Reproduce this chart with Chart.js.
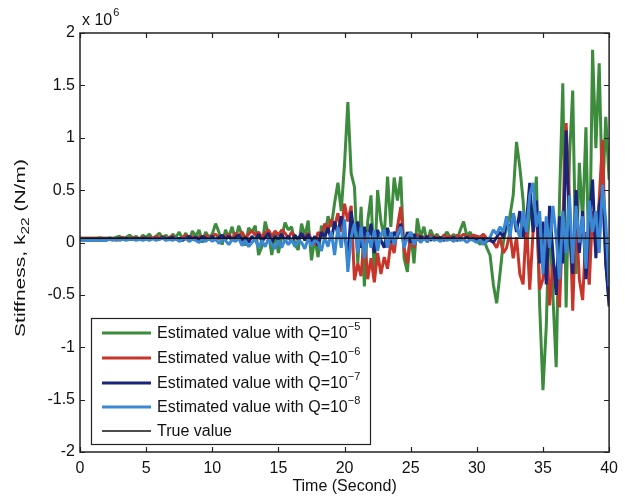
<!DOCTYPE html>
<html>
<head>
<meta charset="utf-8">
<script src="https://cdn.jsdelivr.net/npm/chart.js@4/dist/chart.umd.min.js"></script>
<style>
  html, body { margin: 0; padding: 0; background: #fff; }
  #wrap { width: 625px; height: 499px; }
</style>
</head>
<body>
<div id="wrap"><canvas id="c" width="625" height="499"></canvas></div>
<script>
// Stiffness estimates k22, in units of 10^6 N/m, sampled every 0.25 s from 0 to 40 s
const sampleStep = 0.25;

const estQ5 = [
  0.04,0.04,0.04,0.04, 0.04,0.04,0.045,0.04, 0.04,0.045,0.04,0.05, 0.06,0.03,0.05,0.07,
  0.04,0.06,0.03,0.07, 0.05,0.08,0.03,0.06, 0.09,0.04,0.07,0.02, 0.08,0.05,0.10,0.03,
  0.09,0.02,0.11,0.06, 0.12,0.00,0.10,0.05, 0.08,0.18,0.10,-0.02, 0.12,0.05,0.15,0.02,
  0.16,0.07,-0.03,0.14, 0.10,0.16,-0.12,-0.04, 0.20,0.08,-0.12,0.10, -0.10,0.05,0.19,0.12,
  0.15,-0.02,-0.07,0.18, 0.06,0.21,-0.17,0.04, -0.14,0.16,0.05,0.25, 0.15,0.38,0.57,0.30,
  0.75,1.34,0.66,0.53, -0.20,0.34,-0.42,0.20, 0.45,-0.30,0.50,0.20, 0.05,0.63,0.15,0.62,
  0.40,0.63,-0.15,-0.28, 0.10,-0.20,0.23,0.05, 0.15,0.00,0.12,0.05, 0.08,0.02,0.06,0.10,
  0.04,0.08,0.02,0.12, 0.20,0.06,0.10,0.03, 0.02,-0.02,0.05,-0.05, -0.12,-0.40,-0.58,-0.30,
  0.00,0.15,0.25,0.45, 0.96,0.72,0.40,-0.10, 0.30,0.20,0.63,-0.60, -1.41,-0.80,0.30,-0.50,
  -1.19,0.40,1.52,-0.62, 0.80,1.45,-0.30,0.76, 0.20,1.10,-0.40,1.84, 0.90,1.71,0.40,1.20,
  0.60
];

const estQ6 = [
  0.04,0.04,0.04,0.04, 0.04,0.04,0.04,0.04, 0.04,0.03,0.04,0.02, 0.04,0.05,0.03,0.04,
  0.05,0.03,0.04,0.05, 0.03,0.05,0.04,0.06, 0.04,0.06,0.03,0.05, 0.06,0.04,0.02,0.05,
  0.07,0.04,0.06,0.03, 0.06,0.02,0.07,0.05, 0.06,0.08,0.04,0.07, 0.05,0.08,0.03,0.09,
  0.06,0.10,0.04,0.08, 0.11,0.07,0.10,0.05, 0.09,0.12,0.06,0.11, 0.07,0.12,0.09,0.04,
  0.10,0.06,0.02,0.08, 0.05,0.09,0.03,-0.02, 0.10,0.05,0.18,0.12, 0.22,0.15,0.28,0.10,
  0.37,0.20,0.35,-0.36, -0.20,-0.32,0.10,-0.35, -0.15,-0.38,-0.10,-0.30, -0.14,-0.25,0.00,-0.10,
  0.15,0.34,-0.05,-0.20, 0.10,-0.05,0.08,0.03, 0.06,0.02,0.07,0.04, 0.06,0.03,0.07,0.05,
  0.06,0.04,0.07,0.05, 0.08,0.05,0.06,0.07, 0.06,0.05,0.08,0.04, 0.02,0.00,-0.05,0.05,
  -0.10,-0.05,0.10,-0.15, 0.05,-0.30,-0.40,0.20, -0.45,0.10,0.34,-0.45, -0.35,0.15,-0.60,-0.20,
  -0.30,-0.62,0.20,1.14, 0.40,-0.65,0.30,-0.35, -0.55,0.10,-0.40,0.30, -0.10,0.40,0.98,-0.20,
  -0.55
];

const estQ7 = [
  0.03,0.03,0.03,0.03, 0.03,0.03,0.03,0.03, 0.03,0.04,0.03,0.03, 0.04,0.03,0.04,0.03,
  0.03,0.04,0.03,0.04, 0.04,0.03,0.04,0.03, 0.03,0.05,0.03,0.04, 0.05,0.03,0.04,0.02,
  0.04,0.06,0.03,0.05, 0.02,0.06,0.04,0.03, 0.06,0.02,0.05,0.07, 0.03,0.06,0.02,0.05,
  0.07,0.02,0.05,0.00, 0.06,0.02,0.08,0.01, 0.05,0.09,0.00,0.06, 0.03,0.08,0.02,0.06,
  0.00,0.07,0.03,0.09, 0.02,0.08,0.00,0.06, -0.03,0.10,0.05,0.14, 0.02,0.20,0.08,0.25,
  0.10,-0.15,0.30,0.05, 0.20,-0.05,0.15,0.00, 0.18,-0.10,0.12,0.02, -0.05,0.14,0.00,0.10,
  0.05,0.18,-0.02,0.10, 0.00,0.08,0.02,0.06, 0.03,0.06,0.02,0.05, 0.03,0.05,0.02,0.04,
  0.03,0.05,0.02,0.04, 0.03,0.05,0.03,0.04, 0.03,0.02,0.04,0.01, 0.03,0.00,0.05,0.10,
  0.05,0.20,0.12,0.28, 0.10,0.30,0.05,0.20, 0.57,0.10,0.40,-0.20, 0.20,-0.40,0.35,-0.10,
  -0.50,0.25,-0.20,1.07, 0.10,-0.30,0.50,-0.10, 0.30,-0.35,0.20,0.60, -0.15,0.35,0.50,-0.20,
  -0.61
];

const estQ8 = [
  0.02,0.02,0.02,0.02, 0.02,0.02,0.02,0.02, 0.02,0.03,0.02,0.03, 0.02,0.03,0.02,0.03,
  0.03,0.02,0.03,0.02, 0.03,0.02,0.04,0.02, 0.03,0.04,0.02,0.03, 0.02,0.04,0.01,0.03,
  0.04,0.01,0.03,0.02, 0.00,0.03,0.01,0.04, 0.01,0.04,-0.01,0.03, 0.02,-0.02,0.03,0.01,
  0.04,-0.03,0.02,-0.04, 0.00,0.03,-0.05,0.02, -0.04,0.04,-0.02,-0.06, 0.02,-0.05,0.03,-0.02,
  0.03,-0.04,0.02,0.00, -0.06,0.04,-0.03,0.02, 0.00,-0.08,0.05,-0.04, 0.10,-0.12,0.15,-0.05,
  0.22,-0.28,0.05,0.18, -0.10,0.15,-0.15,0.10, -0.05,0.12,-0.08,0.08, 0.12,-0.05,0.10,-0.02,
  0.08,0.15,-0.05,0.05, 0.10,-0.02,0.05,0.00, 0.04,0.01,0.05,0.02, 0.03,0.01,0.04,0.02,
  0.03,0.01,0.04,0.02, 0.03,0.00,0.03,0.02, 0.00,0.03,-0.02,0.02, 0.05,0.12,0.08,0.15,
  0.10,0.25,0.05,0.28, 0.15,0.05,0.30,0.10, 0.45,0.57,0.15,0.30, -0.30,0.25,-0.05,0.35,
  0.05,-0.35,0.30,-0.10, 0.45,-0.20,0.35,0.00, 0.25,-0.25,0.40,0.10, 0.30,-0.10,0.55,0.20,
  -0.42
];

// constant true stiffness
const trueK22 = 0.04;

const seriesNames = [
  'Estimated value with Q=10', 'Estimated value with Q=10',
  'Estimated value with Q=10', 'Estimated value with Q=10', 'True value'
];
const seriesExponents = ['\u22125', '\u22126', '\u22127', '\u22128', ''];
const seriesColors = ['#3d8b3d', '#c8352b', '#1a2478', '#3a87d4', '#111111'];

const xTickValues = [0, 5, 10, 15, 20, 25, 30, 35, 40];
const yTickValues = [-2, -1.5, -1, -0.5, 0, 0.5, 1, 1.5, 2];

const times = estQ5.map((_, i) => i * sampleStep);
const toPoints = vals => vals.map((v, i) => ({ x: times[i], y: v }));

const FONT = '"Liberation Sans", Arial, Helvetica, sans-serif';

const datasets = [
  { label: seriesNames[0], data: toPoints(estQ5), borderColor: seriesColors[0], borderWidth: 3, order: 5 },
  { label: seriesNames[1], data: toPoints(estQ6), borderColor: seriesColors[1], borderWidth: 3, order: 4 },
  { label: seriesNames[2], data: toPoints(estQ7), borderColor: seriesColors[2], borderWidth: 3, order: 3 },
  { label: seriesNames[3], data: toPoints(estQ8), borderColor: seriesColors[3], borderWidth: 3, order: 2 },
  { label: seriesNames[4], data: [{ x: 0, y: trueK22 }, { x: 40, y: trueK22 }],
    borderColor: seriesColors[4], borderWidth: 1.5, order: 1 }
];
datasets.forEach(d => { d.pointRadius = 0; d.tension = 0; d.fill = false; d.borderJoinStyle = 'bevel'; });

// frame, inward ticks, axis titles and the in-plot legend
const decorations = {
  id: 'decorations',
  afterDraw(chart) {
    const ctx = chart.ctx;
    const a = chart.chartArea;
    const xs = chart.scales.x, ys = chart.scales.y;
    ctx.save();
    ctx.strokeStyle = '#222';
    ctx.lineWidth = 1.2;
    // ticks pointing into the plot on all four sides
    ctx.beginPath();
    xTickValues.forEach(v => {
      const px = Math.round(xs.getPixelForValue(v)) + 0.5;
      ctx.moveTo(px, a.bottom); ctx.lineTo(px, a.bottom - 5);
      ctx.moveTo(px, a.top); ctx.lineTo(px, a.top + 5);
    });
    yTickValues.forEach(v => {
      const py = Math.round(ys.getPixelForValue(v)) + 0.5;
      ctx.moveTo(a.left, py); ctx.lineTo(a.left + 5, py);
      ctx.moveTo(a.right, py); ctx.lineTo(a.right - 5, py);
    });
    ctx.stroke();
    // frame
    ctx.lineWidth = 1.5;
    ctx.strokeRect(a.left, a.top, a.right - a.left, a.bottom - a.top);

    // exponent label above the y axis
    ctx.fillStyle = '#111';
    ctx.textBaseline = 'alphabetic';
    ctx.textAlign = 'left';
    ctx.font = '16px ' + FONT;
    ctx.fillText('x 10', 82, 25);
    const w10 = ctx.measureText('x 10').width;
    ctx.font = '11px ' + FONT;
    ctx.fillText('6', 82 + w10 + 1, 16);

    // x axis title
    ctx.font = '16px ' + FONT;
    ctx.textAlign = 'center';
    ctx.fillText('Time (Second)', (a.left + a.right) / 2, 491);

    // y axis title with subscript, stretched along its length
    ctx.save();
    ctx.translate(25, 248);
    ctx.rotate(-Math.PI / 2);
    ctx.scale(1.4, 1);
    const p1 = 'Stiffness, k', sub = '22', p2 = ' (N/m)';
    ctx.font = '15px ' + FONT;
    const w1 = ctx.measureText(p1).width, w3 = ctx.measureText(p2).width;
    ctx.font = '11px ' + FONT;
    const w2 = ctx.measureText(sub).width;
    const x0 = -(w1 + w2 + w3) / 2;
    ctx.textAlign = 'left';
    ctx.textBaseline = 'alphabetic';
    ctx.font = '15px ' + FONT;
    ctx.fillText(p1, x0, 0);
    ctx.font = '11px ' + FONT;
    ctx.fillText(sub, x0 + w1, 4);
    ctx.font = '15px ' + FONT;
    ctx.fillText(p2, x0 + w1 + w2, 0);
    ctx.restore();

    // legend box
    const lx = 91, ly = 318, lw = 279, lh = 126;
    ctx.fillStyle = '#fff';
    ctx.fillRect(lx, ly, lw, lh);
    ctx.lineWidth = 1.2;
    ctx.strokeStyle = '#222';
    ctx.strokeRect(lx + 0.5, ly + 0.5, lw, lh);
    const rowY = [333, 358, 383, 407, 431];
    ctx.textAlign = 'left';
    seriesNames.forEach((name, i) => {
      const y = rowY[i];
      ctx.strokeStyle = seriesColors[i];
      ctx.lineWidth = i < 4 ? 3 : 1.5;
      ctx.beginPath();
      ctx.moveTo(102, y); ctx.lineTo(151, y);
      ctx.stroke();
      ctx.fillStyle = '#111';
      ctx.font = '16px ' + FONT;
      ctx.textBaseline = 'middle';
      ctx.fillText(name, 157, y + 1);
      if (seriesExponents[i]) {
        const wn = ctx.measureText(name).width;
        ctx.font = '11px ' + FONT;
        ctx.fillText(seriesExponents[i], 157 + wn, y - 6);
      }
    });
    ctx.restore();
  }
};

new Chart(document.getElementById('c'), {
  type: 'line',
  data: { datasets },
  options: {
    responsive: false,
    animation: false,
    devicePixelRatio: 1,
    layout: { padding: { left: 0, right: 10, top: 33, bottom: 0 } },
    plugins: { legend: { display: false }, tooltip: { enabled: false } },
    scales: {
      x: {
        type: 'linear', min: 0, max: 40,
        afterFit(s) { s.height = 47; },
        afterBuildTicks(s) { s.ticks = xTickValues.map(v => ({ value: v })); },
        grid: { display: false, drawTicks: false },
        border: { display: false },
        ticks: { padding: 7, color: '#111', font: { family: FONT, size: 16 }, maxRotation: 0, autoSkip: false,
                 callback: v => String(v) }
      },
      y: {
        type: 'linear', min: -2, max: 2,
        afterFit(s) { s.width = 80; },
        afterBuildTicks(s) { s.ticks = yTickValues.map(v => ({ value: v })); },
        grid: { display: false, drawTicks: false },
        border: { display: false },
        ticks: { padding: 5, color: '#111', font: { family: FONT, size: 16 }, autoSkip: false,
                 callback: v => String(v) }
      }
    }
  },
  plugins: [decorations]
});
</script>
</body>
</html>
